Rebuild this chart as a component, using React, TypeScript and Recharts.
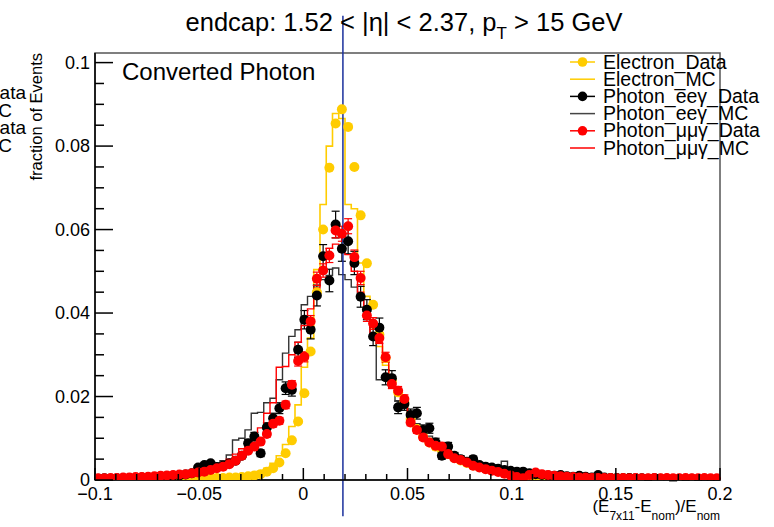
import React from 'react';
import { ComposedChart, Line, XAxis, YAxis, ReferenceLine, ReferenceArea, ErrorBar } from 'recharts';

// binning of the histograms: 100 bins from -0.1 to 0.2
const X_MIN = -0.1;
const BIN_WIDTH = 0.003;

const electronData = [
  0.0002, 0.0002, 0.0002, 0.0002, 0.0002, 0.0002, 0.0003, 0.0003, 0.0003, 0.0003,
  0.0003, 0.0003, 0.0003, 0.0003, 0.0004, 0.0004, 0.0004, 0.0004, 0.0005, 0.0005,
  0.0005, 0.0006, 0.0006, 0.0007, 0.0009, 0.0011, 0.0014, 0.0020, 0.0028, 0.0042,
  0.0064, 0.0095, 0.0140, 0.0208, 0.0308, 0.0450, 0.0600, 0.0748, 0.0854, 0.0888,
  0.0846, 0.0750, 0.0634, 0.0519, 0.0420, 0.0348, 0.0292, 0.0238, 0.0210, 0.0186,
  0.0146, 0.0122, 0.0104, 0.0090, 0.0080, 0.0072, 0.0062, 0.0053, 0.0047, 0.0041,
  0.0035, 0.0031, 0.0027, 0.0024, 0.0021, 0.0019, 0.0016, 0.0014, 0.0012, 0.0011,
  0.0010, 0.0009, 0.0009, 0.0008, 0.0008, 0.0007, 0.0007, 0.0006, 0.0006, 0.0005,
  0.0005, 0.0005, 0.0004, 0.0004, 0.0004, 0.0004, 0.0003, 0.0003, 0.0003, 0.0003,
  0.0003, 0.0003, 0.0002, 0.0002, 0.0002, 0.0002, 0.0002, 0.0002, 0.0002, 0.0002,
];

const electronMC = [
  0.0002, 0.0002, 0.0002, 0.0002, 0.0002, 0.0002, 0.0003, 0.0003, 0.0003, 0.0003,
  0.0003, 0.0003, 0.0003, 0.0003, 0.0004, 0.0004, 0.0004, 0.0004, 0.0004, 0.0004,
  0.0005, 0.0006, 0.0007, 0.0009, 0.0011, 0.0015, 0.0020, 0.0028, 0.0040, 0.0058,
  0.0085, 0.0128, 0.0180, 0.0270, 0.0340, 0.0504, 0.0660, 0.0800, 0.0878, 0.0866,
  0.0660, 0.0650, 0.0520, 0.0440, 0.0365, 0.0320, 0.0275, 0.0235, 0.0205, 0.0178,
  0.0148, 0.0124, 0.0106, 0.0092, 0.0080, 0.0070, 0.0061, 0.0053, 0.0046, 0.0040,
  0.0035, 0.0030, 0.0026, 0.0023, 0.0020, 0.0018, 0.0016, 0.0014, 0.0012, 0.0011,
  0.0010, 0.0009, 0.0009, 0.0008, 0.0007, 0.0007, 0.0006, 0.0006, 0.0005, 0.0005,
  0.0005, 0.0004, 0.0004, 0.0004, 0.0004, 0.0003, 0.0003, 0.0003, 0.0003, 0.0003,
  0.0003, 0.0003, 0.0002, 0.0002, 0.0002, 0.0002, 0.0002, 0.0002, 0.0002, 0.0002,
];

const eegData = [
  0.0003, 0.0004, 0.0003, 0.0004, 0.0004, 0.0005, 0.0004, 0.0006, 0.0005, 0.0006,
  0.0008, 0.0008, 0.0010, 0.0011, 0.0013, 0.0016, 0.0030, 0.0036, 0.0040, 0.0031,
  0.0034, 0.0040, 0.0046, 0.0058, 0.0088, 0.0104, 0.0064, 0.0126, 0.0148, 0.0172,
  0.0220, 0.0216, 0.0312, 0.0384, 0.0360, 0.0442, 0.0536, 0.0478, 0.0612, 0.0554,
  0.0572, 0.0520, 0.0439, 0.0408, 0.0344, 0.0365, 0.0246, 0.0244, 0.0174, 0.0182,
  0.0156, 0.0160, 0.0120, 0.0124, 0.0090, 0.0058, 0.0080, 0.0058, 0.0050, 0.0044,
  0.0050, 0.0036, 0.0032, 0.0030, 0.0027, 0.0024, 0.0022, 0.0020, 0.0020, 0.0016,
  0.0014, 0.0012, 0.0011, 0.0010, 0.0012, 0.0009, 0.0008, 0.0010, 0.0008, 0.0006,
  0.0012, 0.0006, 0.0005, 0.0005, 0.0004, 0.0005, 0.0004, 0.0004, 0.0003, 0.0004,
  0.0003, 0.0003, 0.0000, 0.0003, 0.0002, 0.0003, 0.0002, 0.0002, 0.0002, 0.0002,
];

const eegErr = [
  0.0002, 0.0002, 0.0002, 0.0002, 0.0002, 0.0002, 0.0002, 0.0002, 0.0002, 0.0002,
  0.0002, 0.0002, 0.0002, 0.0002, 0.0002, 0.0003, 0.0004, 0.0004, 0.0004, 0.0004,
  0.0005, 0.0006, 0.0006, 0.0007, 0.0009, 0.0010, 0.0008, 0.0011, 0.0012, 0.0013,
  0.0015, 0.0015, 0.0018, 0.0022, 0.0022, 0.0025, 0.0028, 0.0027, 0.0032, 0.0030,
  0.0030, 0.0028, 0.0025, 0.0024, 0.0022, 0.0023, 0.0018, 0.0018, 0.0015, 0.0015,
  0.0014, 0.0014, 0.0012, 0.0012, 0.0010, 0.0008, 0.0010, 0.0008, 0.0008, 0.0007,
  0.0007, 0.0006, 0.0006, 0.0006, 0.0005, 0.0005, 0.0005, 0.0005, 0.0005, 0.0004,
  0.0004, 0.0004, 0.0004, 0.0004, 0.0004, 0.0004, 0.0004, 0.0004, 0.0004, 0.0004,
  0.0003, 0.0003, 0.0003, 0.0003, 0.0003, 0.0003, 0.0003, 0.0003, 0.0003, 0.0003,
  0.0002, 0.0002, 0.0002, 0.0002, 0.0002, 0.0002, 0.0002, 0.0002, 0.0002, 0.0002,
];

const eegMC = [
  0.0003, 0.0003, 0.0004, 0.0004, 0.0004, 0.0005, 0.0005, 0.0006, 0.0006, 0.0007,
  0.0008, 0.0009, 0.0010, 0.0012, 0.0014, 0.0017, 0.0022, 0.0028, 0.0034, 0.0040,
  0.0046, 0.0060, 0.0096, 0.0100, 0.0120, 0.0160, 0.0162, 0.0185, 0.0196, 0.0240,
  0.0304, 0.0344, 0.0360, 0.0420, 0.0440, 0.0465, 0.0480, 0.0490, 0.0508, 0.0492,
  0.0480, 0.0462, 0.0440, 0.0400, 0.0345, 0.0240, 0.0250, 0.0222, 0.0190, 0.0172,
  0.0150, 0.0135, 0.0120, 0.0105, 0.0090, 0.0080, 0.0070, 0.0061, 0.0054, 0.0048,
  0.0042, 0.0038, 0.0034, 0.0030, 0.0033, 0.0045, 0.0024, 0.0021, 0.0019, 0.0017,
  0.0015, 0.0014, 0.0013, 0.0012, 0.0011, 0.0010, 0.0009, 0.0009, 0.0008, 0.0008,
  0.0007, 0.0007, 0.0006, 0.0006, 0.0006, 0.0005, 0.0005, 0.0005, 0.0005, 0.0004,
  0.0004, 0.0004, 0.0004, 0.0003, 0.0003, 0.0003, 0.0003, 0.0003, 0.0003, 0.0003,
];

const mmgData = [
  0.0004, 0.0004, 0.0005, 0.0005, 0.0006, 0.0006, 0.0007, 0.0007, 0.0008, 0.0009,
  0.0010, 0.0011, 0.0012, 0.0013, 0.0014, 0.0016, 0.0018, 0.0020, 0.0024, 0.0028,
  0.0032, 0.0038, 0.0046, 0.0058, 0.0070, 0.0080, 0.0092, 0.0110, 0.0135, 0.0142,
  0.0180, 0.0228, 0.0285, 0.0295, 0.0380, 0.0482, 0.0502, 0.0538, 0.0598, 0.0590,
  0.0608, 0.0534, 0.0484, 0.0394, 0.0375, 0.0340, 0.0294, 0.0230, 0.0214, 0.0194,
  0.0138, 0.0120, 0.0102, 0.0090, 0.0082, 0.0080, 0.0062, 0.0052, 0.0048, 0.0042,
  0.0034, 0.0030, 0.0026, 0.0022, 0.0019, 0.0015, 0.0011, 0.0007, 0.0004, 0.0012,
  0.0018, 0.0014, 0.0012, 0.0010, 0.0009, 0.0008, 0.0007, 0.0006, 0.0006, 0.0005,
  0.0005, 0.0005, 0.0005, 0.0004, 0.0005, 0.0004, 0.0005, 0.0004, 0.0004, 0.0005,
  0.0004, 0.0005, 0.0004, 0.0004, 0.0005, 0.0004, 0.0004, 0.0005, 0.0004, 0.0004,
];

const mmgErr = [
  0.0001, 0.0001, 0.0001, 0.0001, 0.0001, 0.0001, 0.0001, 0.0001, 0.0001, 0.0001,
  0.0001, 0.0001, 0.0001, 0.0001, 0.0001, 0.0001, 0.0002, 0.0002, 0.0002, 0.0002,
  0.0003, 0.0004, 0.0004, 0.0005, 0.0005, 0.0006, 0.0006, 0.0007, 0.0008, 0.0008,
  0.0009, 0.0010, 0.0012, 0.0012, 0.0014, 0.0016, 0.0016, 0.0017, 0.0018, 0.0018,
  0.0018, 0.0017, 0.0016, 0.0014, 0.0014, 0.0013, 0.0012, 0.0011, 0.0010, 0.0010,
  0.0008, 0.0008, 0.0007, 0.0007, 0.0006, 0.0006, 0.0005, 0.0005, 0.0005, 0.0004,
  0.0004, 0.0004, 0.0004, 0.0004, 0.0004, 0.0004, 0.0004, 0.0004, 0.0004, 0.0004,
  0.0003, 0.0003, 0.0003, 0.0003, 0.0003, 0.0003, 0.0003, 0.0003, 0.0003, 0.0003,
  0.0002, 0.0002, 0.0002, 0.0002, 0.0002, 0.0002, 0.0002, 0.0002, 0.0002, 0.0002,
  0.0002, 0.0002, 0.0002, 0.0002, 0.0002, 0.0002, 0.0002, 0.0002, 0.0002, 0.0002,
];

const mmgMC = [
  0.0004, 0.0004, 0.0005, 0.0005, 0.0006, 0.0006, 0.0007, 0.0008, 0.0008, 0.0009,
  0.0010, 0.0011, 0.0012, 0.0013, 0.0015, 0.0017, 0.0020, 0.0023, 0.0027, 0.0032,
  0.0040, 0.0050, 0.0062, 0.0075, 0.0090, 0.0110, 0.0125, 0.0160, 0.0185, 0.0270,
  0.0272, 0.0300, 0.0330, 0.0370, 0.0410, 0.0460, 0.0500, 0.0555, 0.0565, 0.0548,
  0.0540, 0.0500, 0.0450, 0.0400, 0.0345, 0.0330, 0.0285, 0.0240, 0.0215, 0.0190,
  0.0150, 0.0125, 0.0108, 0.0094, 0.0085, 0.0078, 0.0066, 0.0056, 0.0050, 0.0044,
  0.0038, 0.0033, 0.0028, 0.0024, 0.0021, 0.0018, 0.0015, 0.0013, 0.0012, 0.0011,
  0.0010, 0.0010, 0.0009, 0.0008, 0.0008, 0.0007, 0.0007, 0.0006, 0.0006, 0.0006,
  0.0005, 0.0005, 0.0005, 0.0005, 0.0005, 0.0005, 0.0005, 0.0005, 0.0005, 0.0005,
  0.0005, 0.0005, 0.0004, 0.0004, 0.0004, 0.0004, 0.0004, 0.0004, 0.0004, 0.0004,
];

const xMajorTicks = [-0.1, -0.05, 0, 0.05, 0.1, 0.15, 0.2];
const xTickLabels = ['\u22120.1', '\u22120.05', '0', '0.05', '0.1', '0.15', '0.2'];
const xMinorTicks = [
  -0.09, -0.08, -0.07, -0.06, -0.04, -0.03, -0.02, -0.01, 0.01, 0.02, 0.03, 0.04,
  0.06, 0.07, 0.08, 0.09, 0.11, 0.12, 0.13, 0.14, 0.16, 0.17, 0.18, 0.19,
];
const yMajorTicks = [0, 0.02, 0.04, 0.06, 0.08, 0.1];
const yTickLabels = ['0', '0.02', '0.04', '0.06', '0.08', '0.1'];
const yMinorTicks = [
  0.005, 0.01, 0.015, 0.025, 0.03, 0.035, 0.045, 0.05, 0.055,
  0.065, 0.07, 0.075, 0.085, 0.09, 0.095,
];

const legendLabels = [
  'Electron_Data', 'Electron_MC', 'Photon_ee\u03b3_Data',
  'Photon_ee\u03b3_MC', 'Photon_\u03bc\u03bc\u03b3_Data', 'Photon_\u03bc\u03bc\u03b3_MC',
];
const clippedLabels = ['Photon_ee\u03b3_Data', 'Photon_ee\u03b3_MC', 'Photon_\u03bc\u03bc\u03b3_Data', 'Photon_\u03bc\u03bc\u03b3_MC'];

const YELLOW = '#ffcc00';
const RED = '#ff0000';
const FONT = '"Liberation Sans", Arial, Helvetica, sans-serif';
const PEAK_LINE_X = 0.019;

const data = electronData.map((v, i) => ({
  x: X_MIN + BIN_WIDTH * (i + 0.5),
  ed: v,
  em: electronMC[i],
  bd: eegData[i],
  bdErr: eegErr[i],
  bm: eegMC[i],
  rd: mmgData[i],
  rdErr: mmgErr[i],
  rm: mmgMC[i],
}));

const near = (a: number, b: number) => Math.abs(a - b) < 1e-6;

const XTick = (props: any) => {
  const { x, y, payload } = props;
  const idx = xMajorTicks.findIndex((t) => near(t, payload.value));
  const major = idx >= 0;
  return (
    <g>
      <line x1={x} y1={y} x2={x} y2={y - (major ? 12 : 6)} stroke="#000" strokeWidth={1.5} />
      {major && (
        <text x={x} y={y + 20} textAnchor="middle" fontSize={18} fontFamily={FONT} fill="#000">
          {xTickLabels[idx]}
        </text>
      )}
    </g>
  );
};

const YTick = (props: any) => {
  const { x, y, payload } = props;
  const idx = yMajorTicks.findIndex((t) => near(t, payload.value));
  const major = idx >= 0;
  return (
    <g>
      <line x1={x} y1={y} x2={x + (major ? 18 : 9)} y2={y} stroke="#000" strokeWidth={1.5} />
      {major && (
        <text x={x - 5} y={y + 6} textAnchor="end" fontSize={18} fontFamily={FONT} fill="#000">
          {yTickLabels[idx]}
        </text>
      )}
    </g>
  );
};

const legendStyle = [
  { color: YELLOW, dot: true },
  { color: YELLOW, dot: false },
  { color: '#000', dot: true },
  { color: '#444', dot: false },
  { color: RED, dot: true },
  { color: RED, dot: false },
];

const Overlay = () => (
  <svg width={774} height={527} style={{ position: 'absolute', left: 0, top: 0, pointerEvents: 'none' }}>
    <g fontFamily={FONT} fill="#000">
      <text x={404} y={31} fontSize={25.5} textAnchor="middle">
        endcap: 1.52 &lt; |{'\u03b7'}| &lt; 2.37, p
        <tspan dy={8} fontSize={17}>T</tspan>
        <tspan dy={-8}> &gt; 15 GeV</tspan>
      </text>
      <text x={122} y={80} fontSize={24}>Converted Photon</text>
      <text transform="rotate(-90)" x={-53} y={42} fontSize={16.5} textAnchor="end">fraction of Events</text>
      {clippedLabels.map((t, i) => (
        <text key={t} x={i % 2 === 0 ? 26 : 12} y={99 + i * 17.5} fontSize={19} textAnchor="end">{t}</text>
      ))}
      <text x={720} y={512} fontSize={17} textAnchor="end">
        (E<tspan dy={8} fontSize={12}>7x11</tspan>
        <tspan dy={-8}>-E</tspan>
        <tspan dy={8} fontSize={12}>nom</tspan>
        <tspan dy={-8}>)/E</tspan>
        <tspan dy={8} fontSize={12}>nom</tspan>
      </text>
      {legendLabels.map((t, i) => {
        const cy = 62 + i * 17.2;
        const s = legendStyle[i];
        return (
          <g key={t}>
            <line x1={570} x2={595} y1={cy} y2={cy} stroke={s.color} strokeWidth={1.5} />
            {s.dot && <circle cx={582.5} cy={cy} r={4.8} fill={s.color} />}
            <text x={603} y={cy + 6.5} fontSize={19.5}>{t}</text>
          </g>
        );
      })}
    </g>
  </svg>
);

const App: React.FC = () => {
  return (
    <div style={{ position: 'absolute', left: 0, top: 0, width: 774, height: 527, background: '#fff' }}>
      <ComposedChart width={774} height={527} data={data} margin={{ top: 53, right: 54, bottom: 0, left: 0 }}>
        <ReferenceArea x1={-0.1} x2={0.2} y1={0} y2={0.1023} fill="none" stroke="#555" strokeWidth={1.5} />
        <XAxis
          dataKey="x"
          type="number"
          domain={[-0.1, 0.2]}
          ticks={[...xMajorTicks, ...xMinorTicks].sort((a, b) => a - b)}
          interval={0}
          tick={(p: any) => <XTick {...p} />}
          tickLine={false}
          tickSize={0}
          tickMargin={0}
          height={47}
          axisLine={{ stroke: '#000', strokeWidth: 1.5 }}
          allowDataOverflow
        />
        <YAxis
          type="number"
          domain={[0, 0.1023]}
          ticks={[...yMajorTicks, ...yMinorTicks].sort((a, b) => a - b)}
          interval={0}
          tick={(p: any) => <YTick {...p} />}
          tickLine={false}
          tickSize={0}
          tickMargin={0}
          width={95}
          axisLine={{ stroke: '#000', strokeWidth: 1.5 }}
          allowDataOverflow
        />
        <Line dataKey="ed" stroke="none" isAnimationActive={false} dot={{ r: 5, fill: YELLOW, stroke: YELLOW, strokeWidth: 0 }} activeDot={false} />
        <Line dataKey="em" type="step" stroke={YELLOW} strokeWidth={1.6} isAnimationActive={false} dot={false} activeDot={false} />
        <Line dataKey="bd" stroke="none" isAnimationActive={false} dot={{ r: 5, fill: '#000', stroke: '#000', strokeWidth: 0 }} activeDot={false}>
          <ErrorBar dataKey="bdErr" width={4} stroke="#000" strokeWidth={1.2} direction="y" />
        </Line>
        <Line dataKey="bm" type="step" stroke="#333" strokeWidth={1.4} isAnimationActive={false} dot={false} activeDot={false} />
        <Line dataKey="rd" stroke="none" isAnimationActive={false} dot={{ r: 5, fill: RED, stroke: RED, strokeWidth: 0 }} activeDot={false}>
          <ErrorBar dataKey="rdErr" width={4} stroke={RED} strokeWidth={1.2} direction="y" />
        </Line>
        <Line dataKey="rm" type="step" stroke={RED} strokeWidth={1.4} isAnimationActive={false} dot={false} activeDot={false} />
        <ReferenceLine
          segment={[{ x: PEAK_LINE_X, y: -0.0087 }, { x: PEAK_LINE_X, y: 0.1112 }]}
          stroke="#1a2f9c"
          strokeWidth={1.5}
          ifOverflow="visible"
        />
      </ComposedChart>
      <Overlay />
    </div>
  );
};

export default App;
